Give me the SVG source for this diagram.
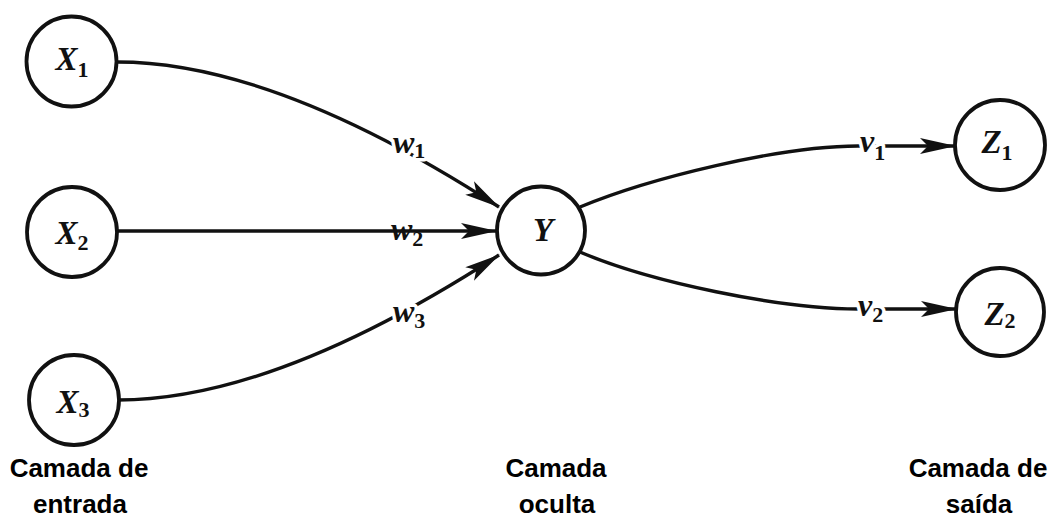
<svg xmlns="http://www.w3.org/2000/svg" width="1052" height="519" viewBox="0 0 1052 519">
  <style>
    .node circle { fill: #ffffff; stroke: #111111; stroke-width: 3.8; }
    .sym { font-family: "Liberation Serif", "Times New Roman", serif; font-style: italic; font-weight: bold; font-size: 33px; fill: #111111; }
    .sub { font-style: normal; font-weight: bold; font-size: 22px; }
    .wt { font-family: "Liberation Serif", "Times New Roman", serif; font-style: italic; font-weight: bold; font-size: 32px; fill: #111111; }
    .halo { stroke: #ffffff; stroke-width: 7; paint-order: stroke; stroke-linejoin: round; }
    .edge { fill: none; stroke: #111111; stroke-width: 3.4; marker-end: url(#arrow); }
    .layer { font-family: "Liberation Sans", Arial, sans-serif; font-weight: bold; font-size: 26px; fill: #000000; text-anchor: middle; }
  </style>
  <defs>
    <marker id="arrow" markerUnits="userSpaceOnUse" markerWidth="44" markerHeight="22" viewBox="-38 -11 40 22" refX="0" refY="0" orient="auto">
      <path d="M1,0 L-35,-8 L-27,0 L-35,8 Z" fill="#111111"/>
    </marker>
  </defs>

  <rect width="1052" height="519" fill="#ffffff"/>

  <!-- connectors -->
  <g id="connectors">
    <path class="edge" d="M117,62 C230,62 360,117 499,207"/>
    <path class="edge" d="M118,231 L496,231"/>
    <path class="edge" d="M118,400 C230,400 360,345 499,255"/>
    <path class="edge" d="M580,207 C650,178 780,146 858,146 L955,146"/>
    <path class="edge" d="M580,252 C650,282 780,309 858,309 L956,309"/>

    <text class="wt halo" x="393" y="153">w<tspan class="sub" font-weight="normal" dy="5">1</tspan></text>
    <text class="wt" x="391" y="240">w<tspan class="sub" font-weight="normal" dy="6">2</tspan></text>
    <text class="wt halo" x="393" y="322">w<tspan class="sub" font-weight="normal" dy="6">3</tspan></text>
    <text class="wt halo" x="860" y="152">v<tspan class="sub" font-weight="normal" dy="8">1</tspan></text>
    <text class="wt halo" x="858" y="316">v<tspan class="sub" font-weight="normal" dy="6">2</tspan></text>
  </g>

  <!-- input layer -->
  <g id="x1" class="node">
    <circle cx="71.5" cy="61.5" r="45"/>
    <text class="sym" x="72" y="70" text-anchor="middle">X<tspan class="sub" dy="7">1</tspan></text>
  </g>
  <g id="x2" class="node">
    <circle cx="72" cy="232" r="45"/>
    <text class="sym" x="72" y="244" text-anchor="middle">X<tspan class="sub" dy="6">2</tspan></text>
  </g>
  <g id="x3" class="node">
    <circle cx="74" cy="400" r="45"/>
    <text class="sym" x="73" y="413" text-anchor="middle">X<tspan class="sub" dy="4">3</tspan></text>
  </g>

  <!-- hidden layer -->
  <g id="y" class="node">
    <circle cx="541" cy="230.5" r="44"/>
    <text class="sym" x="543" y="241" text-anchor="middle">Y</text>
  </g>

  <!-- output layer -->
  <g id="z1" class="node">
    <circle cx="1000" cy="145" r="45"/>
    <text class="sym" x="997" y="153" text-anchor="middle">Z<tspan class="sub" dy="7">1</tspan></text>
  </g>
  <g id="z2" class="node">
    <circle cx="1000" cy="312" r="44"/>
    <text class="sym" x="1000" y="325" text-anchor="middle">Z<tspan class="sub" dy="3">2</tspan></text>
  </g>

  <!-- layer captions -->
  <g id="captions">
    <text class="layer" x="79" y="477">Camada de</text>
    <text class="layer" x="80" y="513">entrada</text>
    <text class="layer" x="556" y="477">Camada</text>
    <text class="layer" x="557" y="513">oculta</text>
    <text class="layer" x="978" y="477">Camada de</text>
    <text class="layer" x="979" y="513">saída</text>
  </g>
</svg>
